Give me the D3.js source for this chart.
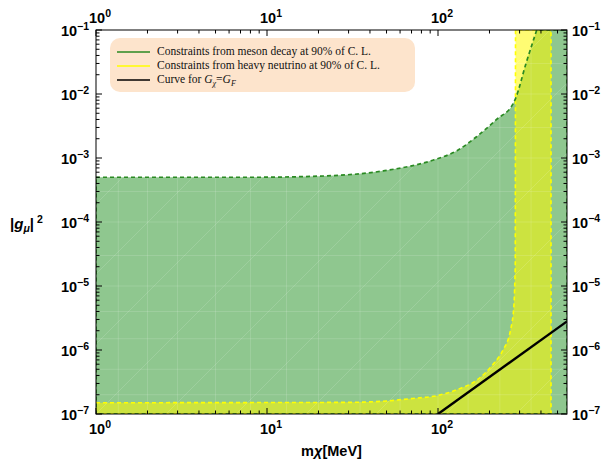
<!DOCTYPE html>
<html><head><meta charset="utf-8">
<script src="https://cdn.jsdelivr.net/npm/d3@7"></script>
<style>body{margin:0;background:#fff}svg{display:block}</style>
</head><body>
<svg id="c" width="606" height="460"></svg>
<script>
// ---- data ----
const xDomain = [1, 568];
const yDomain = [1e-7, 0.1];
const xTickExps = [0, 1, 2];
const yTickExps = [-7, -6, -5, -4, -3, -2, -1];

// meson decay constraint (upper boundary of green region)
const mesonMass = [1, 8, 20, 48, 94, 129, 168, 220, 276, 285, 327, 378];
const mesonG    = [5e-4, 5e-4, 5.2e-4, 6.3e-4, 9.3e-4, 1.3e-3, 2.15e-3, 4.0e-3, 7.2e-3, 8.7e-3, 3.0e-2, 1e-1];

// heavy neutrino constraint (lower boundary of yellow region)
const neutrinoMass = [1, 30, 50, 71, 100, 129, 169, 210, 240, 265, 278, 283, 284];
const neutrinoG    = [1.5e-7, 1.52e-7, 1.6e-7, 1.75e-7, 1.95e-7, 2.4e-7, 3.4e-7, 6e-7, 1.0e-6, 2e-6, 5e-6, 2e-5, 1e-1];
const neutrinoRightMass = 458;

// G_chi = G_F curve
const curveMass = [100, 568];
const curveG    = [1e-7, 2.8e-6];

const legendLabels = ["Constraints from meson decay at 90% of C. L.",
                      "Constraints from heavy neutrino at 90% of C. L."];

// ---- layout ----
const L = 96, R = 567, T = 30, B = 414;
const svg = d3.select("#c");
const x = d3.scaleLog().domain(xDomain).range([L, R]);
const y = d3.scaleLog().domain(yDomain).range([B, T]);

svg.append("defs").append("clipPath").attr("id","clip")
  .append("rect").attr("x",L).attr("y",T).attr("width",R-L).attr("height",B-T);

const plot = svg.append("g").attr("clip-path","url(#clip)");
const line = d3.line().x(d=>x(d[0])).y(d=>y(d[1]));
const smooth = d3.line().x(d=>x(d[0])).y(d=>y(d[1])).curve(d3.curveMonotoneX);

// green region
const greenCurve = mesonMass.map((m,i)=>[m, mesonG[i]]);
const greenTail = [[xDomain[1], yDomain[1]], [xDomain[1], yDomain[0]], [xDomain[0], yDomain[0]]];
const greenPath = smooth(greenCurve) + line(greenTail).replace(/^M/,"L") + "Z";
plot.append("path").attr("d", greenPath)
  .attr("fill","rgb(0,128,0)").attr("fill-opacity",0.44);

// yellow region
const yellowCurve = neutrinoMass.slice(0,-1).map((m,i)=>[m, neutrinoG[i]]);
const yellowTail = [[neutrinoMass[neutrinoMass.length-1], neutrinoG[neutrinoG.length-1]],
  [neutrinoRightMass, yDomain[1]], [neutrinoRightMass, yDomain[0]], [xDomain[0], yDomain[0]]];
const yellowPath = smooth(yellowCurve) + line(yellowTail).replace(/^M/,"L") + "Z";
plot.append("path").attr("d", yellowPath)
  .attr("fill","rgb(255,250,0)").attr("fill-opacity",0.55);

// faint mesh texture
const mesh = plot.append("g").attr("stroke","#fff").attr("stroke-opacity",0.14).attr("stroke-width",1);
[1.35, 2, 3, 5, 8, 13, 20, 35, 60, 100, 150, 230, 350].forEach(v=>{
  mesh.append("line").attr("x1",x(v)).attr("x2",x(v)).attr("y1",T).attr("y2",B);
});
[2e-7, 5e-7, 1.5e-6, 4e-6, 1e-5, 3e-5, 1e-4, 3e-4, 1e-3, 3e-3, 1e-2, 3e-2].forEach(v=>{
  mesh.append("line").attr("x1",L).attr("x2",R).attr("y1",y(v)).attr("y2",y(v));
});
for (let k=-8; k<8; k++){
  const x0 = L + k*70;
  mesh.append("line").attr("x1",x0).attr("y1",B).attr("x2",x0+420).attr("y2",B-420);
}

// boundary strokes
plot.append("path").attr("d", yellowPath).attr("fill","none")
  .attr("stroke","#ffff00").attr("stroke-width",1.6).attr("stroke-dasharray","4,3");
plot.append("path").attr("d", greenPath).attr("fill","none")
  .attr("stroke","#2a8a22").attr("stroke-width",1.7).attr("stroke-dasharray","4,3");

// G_chi = G_F curve
plot.append("path").attr("d", line(curveMass.map((m,i)=>[m, curveG[i]])))
  .attr("fill","none").attr("stroke","#000").attr("stroke-width",2.4);

// frame
svg.append("rect").attr("x",L).attr("y",T).attr("width",R-L).attr("height",B-T)
  .attr("fill","none").attr("stroke","#000").attr("stroke-width",1);

// ticks
const tk = svg.append("g").attr("stroke","#000").attr("stroke-width",1);
for (let e=0; e<=2; e++){
  for (let k=1; k<=9; k++){
    const v = k*Math.pow(10,e);
    if (v > xDomain[1]) continue;
    const len = k===1 ? 6 : 3.5, px = x(v);
    tk.append("line").attr("x1",px).attr("x2",px).attr("y1",B).attr("y2",B-len);
    tk.append("line").attr("x1",px).attr("x2",px).attr("y1",T).attr("y2",T+len);
  }
}
for (let e=-7; e<=-1; e++){
  for (let k=1; k<=9; k++){
    const v = k*Math.pow(10,e);
    if (v > yDomain[1]*1.0001) continue;
    const len = k===1 ? 6 : 3.5, py = y(v);
    tk.append("line").attr("x1",L).attr("x2",L+len).attr("y1",py).attr("y2",py);
    tk.append("line").attr("x1",R).attr("x2",R-len).attr("y1",py).attr("y2",py);
  }
}

// tick labels
const labFont = "'Liberation Sans', Arial, sans-serif";
function pow10(g, e, px, py, anchor){
  const t = g.append("text").attr("x",px).attr("y",py).attr("text-anchor",anchor)
    .attr("font-family",labFont).attr("font-weight","bold").attr("font-size",14.5).attr("fill","#000");
  t.append("tspan").text("10");
  t.append("tspan").attr("dy",-6).attr("font-size",10.5).text(String(e).replace("-","\u2212"));
  return t;
}
const lg = svg.append("g");
xTickExps.forEach(e=>{
  pow10(lg, e, x(Math.pow(10,e))+4, 434, "middle");
  pow10(lg, e, x(Math.pow(10,e))+4, 23, "middle");
});
yTickExps.forEach(e=>{
  pow10(lg, e, L-7, y(Math.pow(10,e))+6, "end");
  pow10(lg, e, R+5, y(Math.pow(10,e))+6, "start");
});

// axis titles
const xt = svg.append("text").attr("x",(L+R)/2).attr("y",456).attr("text-anchor","middle")
  .attr("font-family",labFont).attr("font-weight","bold").attr("font-size",14.5);
xt.append("tspan").text("m");
xt.append("tspan").attr("font-style","italic").text("\u03C7");
xt.append("tspan").text("[MeV]");

const yt = svg.append("text").attr("x",10).attr("y",229)
  .attr("font-family",labFont).attr("font-weight","bold").attr("font-size",15);
yt.append("tspan").text("|");
yt.append("tspan").attr("font-style","italic").text("g");
yt.append("tspan").attr("dy",3).attr("font-size",10.5).attr("font-style","italic").text("\u03BC");
yt.append("tspan").attr("dy",-3).text("|");
yt.append("tspan").attr("dy",-6).attr("font-size",10.5).attr("dx",3).text("2");

// legend
const leg = svg.append("g");
leg.append("rect").attr("x",110).attr("y",38).attr("width",305).attr("height",54).attr("rx",10)
  .attr("fill","#fde4cc");
const legColors = ["#2a8a22", "#ffff00", "#000"];
const serif = "'Liberation Serif', 'Times New Roman', serif";
[0,1,2].forEach(i=>{
  const ly = 51 + i*14;
  leg.append("line").attr("x1",117).attr("x2",150).attr("y1",ly+1).attr("y2",ly+1)
    .attr("stroke",legColors[i]).attr("stroke-width",1.6);
  const t = leg.append("text").attr("x",157).attr("y",ly+4)
    .attr("font-family",serif).attr("font-size",11.5).attr("fill","#111");
  if (i<2) t.text(legendLabels[i]);
  else {
    t.append("tspan").text("Curve for ");
    t.append("tspan").attr("font-style","italic").text("G");
    t.append("tspan").attr("font-style","italic").attr("font-size",8).attr("dy",2.5).text("\u03C7");
    t.append("tspan").attr("dy",-2.5).text("=");
    t.append("tspan").attr("font-style","italic").text("G");
    t.append("tspan").attr("font-style","italic").attr("font-size",8).attr("dy",2.5).text("F");
  }
});
</script>
</body></html>
